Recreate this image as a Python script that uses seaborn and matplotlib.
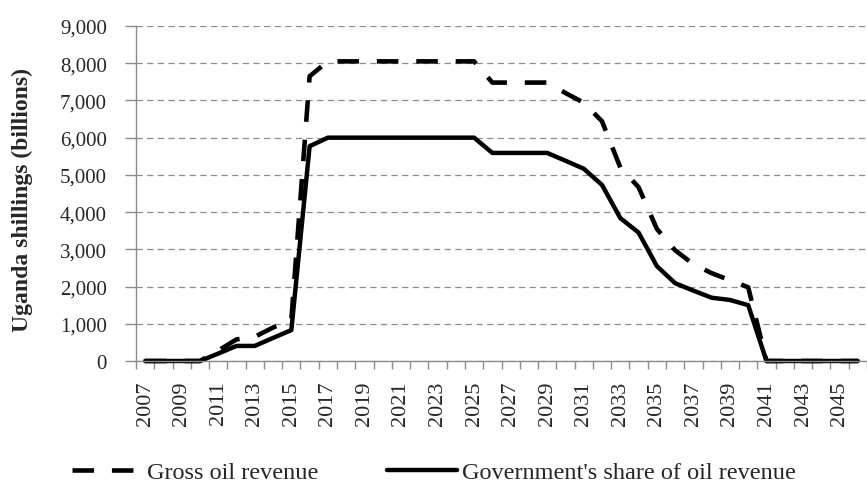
import numpy as np
import pandas as pd
import matplotlib.pyplot as plt
import seaborn as sns
from matplotlib.ticker import FuncFormatter

sns.set_style("white")
plt.rcParams['font.family'] = ['Liberation Serif', 'DejaVu Serif']

# data (billions of Uganda shillings)
years = list(range(2007, 2047))
gross = [0, 0, 0, 0, 280, 580, 650, 900, 1100, 7650,
         8050, 8050, 8050, 8050, 8050, 8050, 8050, 8050, 8050,
         7480, 7480, 7480, 7480,
         7200, 6940, 6440, 5200, 4670, 3550, 2975, 2600, 2360, 2170, 1980,
         0, 0, 0, 0, 0, 0]
gov = [0, 0, 0, 0, 200, 405, 405, 620, 830, 5770,
       6000, 6000, 6000, 6000, 6000, 6000, 6000, 6000, 6000,
       5590, 5590, 5590, 5590,
       5380, 5165, 4730, 3840, 3450, 2550, 2090, 1890, 1700, 1640, 1500,
       0, 0, 0, 0, 0, 0]

df = pd.DataFrame({'year': years, 'gross': gross, 'gov': gov})

fig = plt.figure(figsize=(8.67, 4.85), dpi=100)
ax = fig.add_axes([136 / 867, 1 - 362 / 485, 731 / 867, 335 / 485])

grid_c = '#8c8c8c'
ax.yaxis.grid(True, color=grid_c, lw=0.9, ls=(0, (5, 3.5)))
ax.set_axisbelow(True)

sns.lineplot(data=df, x='year', y='gross', ax=ax, color='black', lw=3.3,
             ls=(0, (4.7, 3.9)), label='Gross oil revenue', clip_on=False)
sns.lineplot(data=df, x='year', y='gov', ax=ax, color='black', lw=3.2,
             label="Government's share of oil revenue", clip_on=False)

ax.set_xlim(2006.5, 2046.5)
ax.set_ylim(0, 9000)
ax.set_yticks(range(0, 9001, 1000))
ax.yaxis.set_major_formatter(FuncFormatter(lambda v, p: f'{v:,.0f}'))
ax.set_xticks(years[::2])
ax.set_xticklabels([str(y) for y in years[::2]], rotation=90)
ax.set_xticks(np.arange(2006.5, 2047, 1), minor=True)

ax.tick_params(axis='x', which='major', length=0, pad=14, labelsize=16)
ax.tick_params(axis='x', which='minor', length=6, color=grid_c, width=1,
               direction='out', bottom=True)
ax.tick_params(axis='y', length=8, color=grid_c, width=1, pad=13,
               labelsize=15, left=True)

for s in ['top', 'right']:
    ax.spines[s].set_visible(False)
for s in ['left', 'bottom']:
    ax.spines[s].set_color(grid_c)
    ax.spines[s].set_linewidth(1)

ax.set_xlabel('')
ax.set_ylabel('Uganda shillings (billions)', fontsize=17, fontweight='bold')
ax.yaxis.set_label_coords(-0.141, 0.484)

ax.legend(loc='center left', bbox_to_anchor=(72 / 867, 1 - 473 / 485),
          bbox_transform=fig.transFigure, ncol=2, frameon=False,
          fontsize=17.5, handlelength=2.88, handletextpad=0.2,
          columnspacing=2.84, borderpad=0, borderaxespad=0)

fig.savefig('out.png', dpi=100)
